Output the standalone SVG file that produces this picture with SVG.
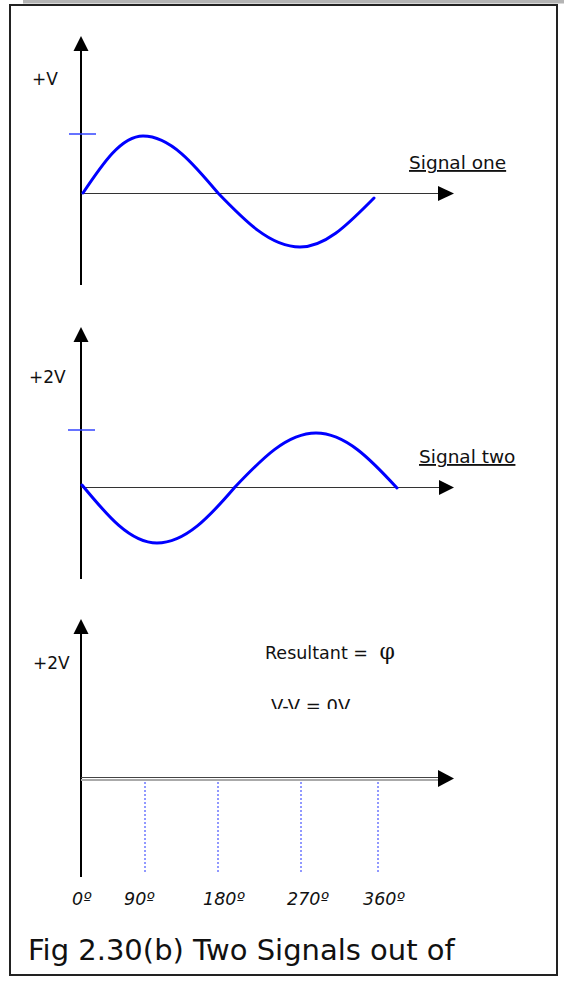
<svg xmlns="http://www.w3.org/2000/svg" width="564" height="984" viewBox="0 0 564 984">
<style>
text{font-family:"DejaVu Sans","Liberation Sans",sans-serif;fill:#111}
.lbl{font-size:17px}
.sig{font-size:18.5px;text-decoration:underline}
.deg{font-size:17.5px;font-style:italic}
.yaxis{stroke:#000;stroke-width:2;fill:none}
.xaxis{stroke:#333;stroke-width:1.2;fill:none}
.wave{stroke:#0000ff;stroke-width:3;fill:none;stroke-linecap:round}
.tick{stroke:#3344ff;stroke-width:1.5}
.dot{stroke:#2233ff;stroke-width:1;stroke-dasharray:2,2}
.head{fill:#000}
</style>
<rect x="0" y="0" width="564" height="984" fill="#fff"/>
<rect x="23" y="0" width="541" height="3.5" fill="#b4b4b4"/>
<rect id="frame" x="10" y="5" width="547" height="970" fill="none" stroke="#222" stroke-width="2"/>

<g id="connectors">
  <line class="yaxis" x1="81" y1="285" x2="81" y2="48"/>
  <polygon class="head" points="81,36 73.5,51 88.5,51"/>
  <line class="xaxis" x1="81" y1="193.5" x2="440" y2="193.5"/>
  <polygon class="head" points="454,193.5 438,186 438,201"/>
  <line class="yaxis" x1="81" y1="579" x2="81" y2="338"/>
  <polygon class="head" points="81,327 73.5,342 88.5,342"/>
  <line class="xaxis" x1="81" y1="487.5" x2="441" y2="487.5"/>
  <polygon class="head" points="454,487.5 439,480 439,495"/>
  <line class="yaxis" x1="81" y1="877" x2="81" y2="630"/>
  <polygon class="head" points="81,619 73.5,634 88.5,634"/>
  <line x1="81" y1="777.5" x2="440" y2="777.5" stroke="#444" stroke-width="1.2"/>
  <line x1="81" y1="780" x2="440" y2="780" stroke="#aaa" stroke-width="2"/>
  <polygon class="head" points="454,778.5 438,770 438,787"/>
</g>

<g id="signal-one">
  <line class="tick" x1="69" y1="134" x2="96" y2="134"/>
  <path class="wave" d="M83,193 C102.6,163.8 121.3,136 143,136 C170.1,136 193.5,163.8 218,193 C244.7,220.7 270.3,247 300,247 C326.8,247 349.9,222 374,198"/>
  <text class="lbl" x="32" y="85">+V</text>
  <text class="sig" x="409" y="169">Signal one</text>
</g>

<g id="signal-two">
  <line class="tick" x1="68" y1="430" x2="95" y2="430"/>
  <path class="wave" d="M82,485 C106.5,514.7 129.9,543 157,543 C185.2,543 209.6,516.7 235,487 C261.4,459.3 286.7,433 316,433 C345.3,433 370.6,459.3 397,488"/>
  <text class="lbl" x="29" y="383">+2V</text>
  <text class="sig" x="419" y="463">Signal two</text>
</g>

<g id="resultant">
  <line class="dot" x1="145" y1="782" x2="145" y2="874"/>
  <line class="dot" x1="218" y1="782" x2="218" y2="874"/>
  <line class="dot" x1="301" y1="782" x2="301" y2="874"/>
  <line class="dot" x1="378" y1="782" x2="378" y2="874"/>
  <text class="lbl" x="33" y="669">+2V</text>
  <text x="265" y="659" font-size="17.5">Resultant = <tspan font-family="'DejaVu Serif','Liberation Serif',serif" font-size="22" dx="6">φ</tspan></text>
  <clipPath id="clipv"><rect x="250" y="690" width="150" height="19"/></clipPath>
  <text x="271" y="712" font-size="18" clip-path="url(#clipv)">V-V = 0V</text>
</g>

<g id="degree-labels">
  <text class="deg" x="72" y="905">0º</text>
  <text class="deg" x="124" y="905">90º</text>
  <text class="deg" x="203" y="905">180º</text>
  <text class="deg" x="287" y="905">270º</text>
  <text class="deg" x="363" y="905">360º</text>
</g>

<g id="caption">
  <text x="28" y="960" font-size="29">Fig 2.30(b) Two Signals out of</text>
</g>
</svg>
